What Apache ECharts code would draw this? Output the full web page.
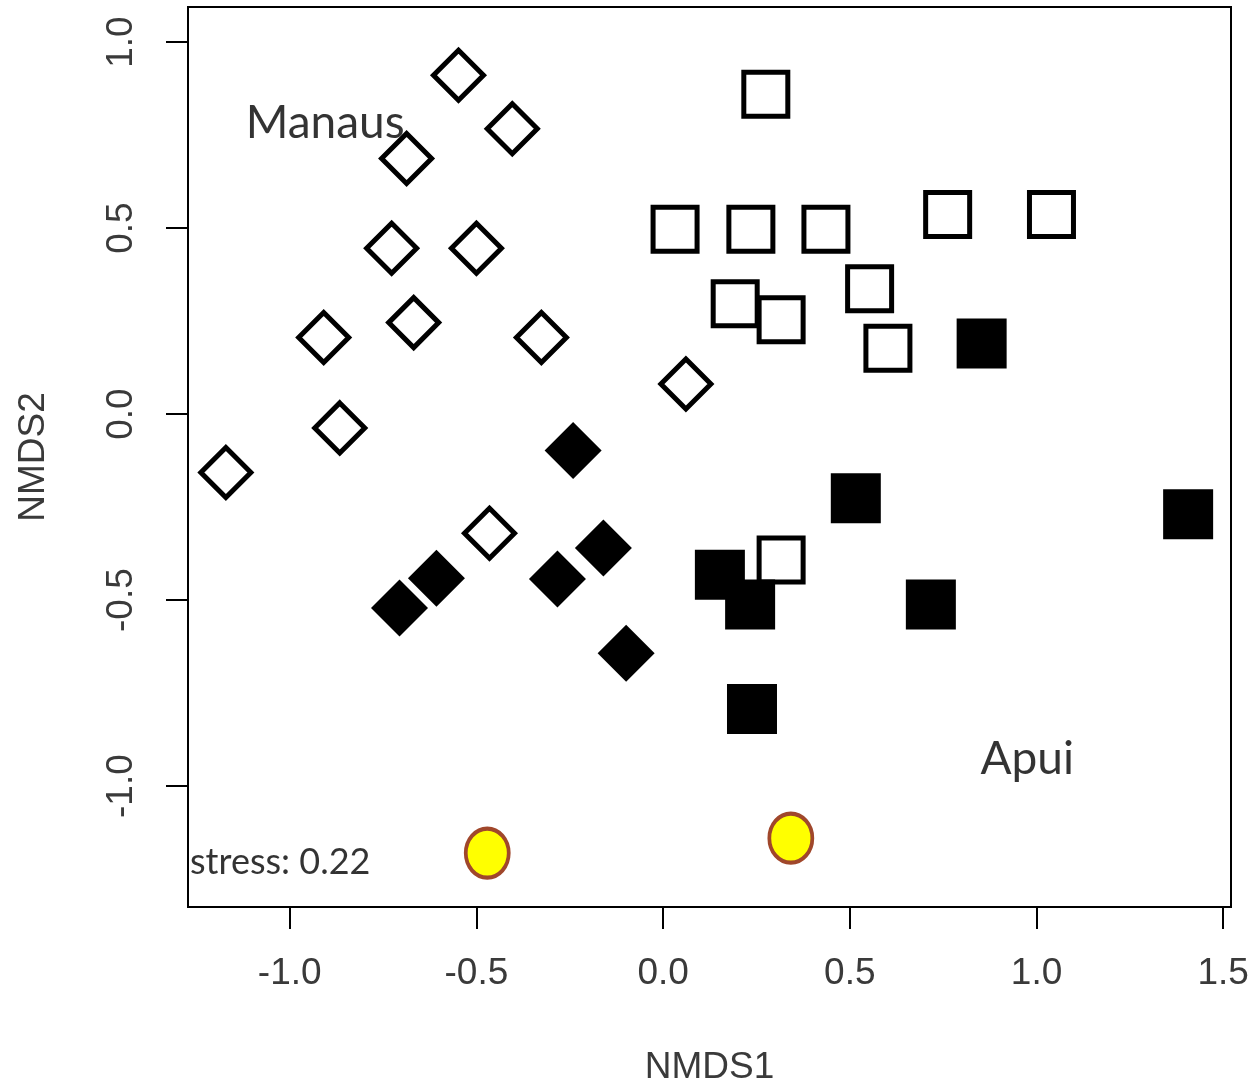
<!DOCTYPE html>
<html>
<head>
<meta charset="utf-8">
<script src="https://cdn.jsdelivr.net/npm/echarts@6/dist/echarts.min.js"></script>
<style>
  html, body { margin: 0; padding: 0; background: #fff; overflow: hidden; }
  #chart { width: 1256px; height: 1091px; }
</style>
</head>
<body>
<div id="chart"></div>
<script>
// ---- Data (NMDS scores) ----
const manausOpenX = [-0.548, -0.404, -0.687, -0.727, -0.500, -0.668, -0.909, -0.326, 0.061, -0.866, -1.171, -0.465];
const manausOpenY = [0.911, 0.767, 0.687, 0.446, 0.446, 0.246, 0.206, 0.206, 0.081, -0.037, -0.157, -0.320];

const manausFilledX = [-0.241, -0.160, -0.283, -0.607, -0.706, -0.099];
const manausFilledY = [-0.098, -0.360, -0.443, -0.441, -0.521, -0.643];

const apuiOpenX = [0.275, 0.032, 0.235, 0.436, 0.762, 1.040, 0.553, 0.193, 0.316, 0.602, 0.316];
const apuiOpenY = [0.860, 0.497, 0.497, 0.497, 0.537, 0.537, 0.337, 0.297, 0.254, 0.177, -0.392];

const apuiFilledX = [0.853, 0.516, 1.406, 0.152, 0.233, 0.717, 0.238];
const apuiFilledY = [0.190, -0.226, -0.269, -0.432, -0.512, -0.512, -0.793];

const refX = [-0.471, 0.342];
const refY = [-1.180, -1.140];

const tickValues = [-1.0, -0.5, 0.0, 0.5, 1.0, 1.5];
const yTickValues = [-1.0, -0.5, 0.0, 0.5, 1.0];

const noteTexts = ['Manaus', 'Apui', 'stress: 0.22'];
const noteX = [-1.118, 0.850, -1.267];
const noteY = [0.783, -0.928, -1.204];
const noteSizes = [46, 46, 36];

const xRange = [-1.2724, 1.5208];
const yRange = [-1.325, 1.0945];

// ---- helpers ----
function pairs(xs, ys) { return xs.map((x, i) => [x, ys[i]]); }

const axisColor = '#000';
const labelColor = '#3a3a3a';
const axisFont = '"Liberation Sans", Arial, sans-serif';
const noteFont = 'Lato, "Open Sans", sans-serif';

const chart = echarts.init(document.getElementById('chart'), null, { renderer: 'canvas' });

const option = {
  animation: false,
  backgroundColor: '#fff',
  grid: {
    left: 188, top: 7, width: 1043, height: 906,
    show: true, borderColor: '#000', borderWidth: 2, backgroundColor: 'transparent'
  },
  xAxis: {
    type: 'value',
    min: xRange[0], max: xRange[1],
    name: 'NMDS1', nameLocation: 'middle', nameGap: 142,
    nameTextStyle: { fontFamily: axisFont, fontSize: 37, color: labelColor },
    axisLine: { show: true, onZero: false, lineStyle: { color: axisColor, width: 2 } },
    axisTick: { show: true, inside: false, length: 22, customValues: tickValues,
                lineStyle: { color: axisColor, width: 2 } },
    axisLabel: { show: true, customValues: tickValues, margin: 48,
                 formatter: v => v.toFixed(1),
                 fontFamily: axisFont, fontSize: 37, color: labelColor },
    splitLine: { show: false }
  },
  yAxis: {
    type: 'value',
    min: yRange[0], max: yRange[1],
    name: 'NMDS2', nameLocation: 'middle', nameGap: 136, nameRotate: 90,
    nameTextStyle: { fontFamily: axisFont, fontSize: 37, color: labelColor },
    axisLine: { show: true, onZero: false, lineStyle: { color: axisColor, width: 2 } },
    axisTick: { show: true, inside: false, length: 22, customValues: yTickValues,
                lineStyle: { color: axisColor, width: 2 } },
    axisLabel: { show: true, customValues: yTickValues, margin: 48, rotate: 90,
                 formatter: v => v.toFixed(1),
                 fontFamily: axisFont, fontSize: 37, color: labelColor },
    splitLine: { show: false }
  },
  series: [
    {
      name: 'Manaus (open)', type: 'scatter', symbol: 'diamond', symbolSize: 50,
      data: pairs(manausOpenX, manausOpenY),
      itemStyle: { color: 'rgba(0,0,0,0)', borderColor: '#000', borderWidth: 5, opacity: 1 },
      emphasis: { disabled: true }
    },
    {
      name: 'Manaus (filled)', type: 'scatter', symbol: 'diamond', symbolSize: 57,
      data: pairs(manausFilledX, manausFilledY),
      itemStyle: { color: '#000', opacity: 1 },
      emphasis: { disabled: true }
    },
    {
      name: 'Apui (open)', type: 'scatter', symbol: 'rect', symbolSize: 44,
      data: pairs(apuiOpenX, apuiOpenY),
      itemStyle: { color: 'rgba(0,0,0,0)', borderColor: '#000', borderWidth: 5, opacity: 1 },
      emphasis: { disabled: true }
    },
    {
      name: 'Apui (filled)', type: 'scatter', symbol: 'rect', symbolSize: 50,
      data: pairs(apuiFilledX, apuiFilledY),
      itemStyle: { color: '#000', opacity: 1 },
      emphasis: { disabled: true }
    },
    {
      name: 'Reference', type: 'scatter', symbol: 'circle', symbolSize: [43, 49],
      data: pairs(refX, refY),
      itemStyle: { color: '#ffff00', borderColor: '#a0472b', borderWidth: 4, opacity: 1 },
      emphasis: { disabled: true }
    },
    {
      name: 'Notes', type: 'scatter', symbol: 'circle', symbolSize: 0, silent: true,
      data: noteTexts.map((t, i) => ({
        name: t, value: [noteX[i], noteY[i]],
        label: { fontSize: noteSizes[i] }
      })),
      label: {
        show: true, position: 'right', distance: 0,
        formatter: p => p.name,
        fontFamily: noteFont, color: '#000', align: 'left', verticalAlign: 'middle'
      },
      itemStyle: { color: 'rgba(0,0,0,0)' },
      emphasis: { disabled: true }
    }
  ]
};

chart.setOption(option);
</script>
</body>
</html>
